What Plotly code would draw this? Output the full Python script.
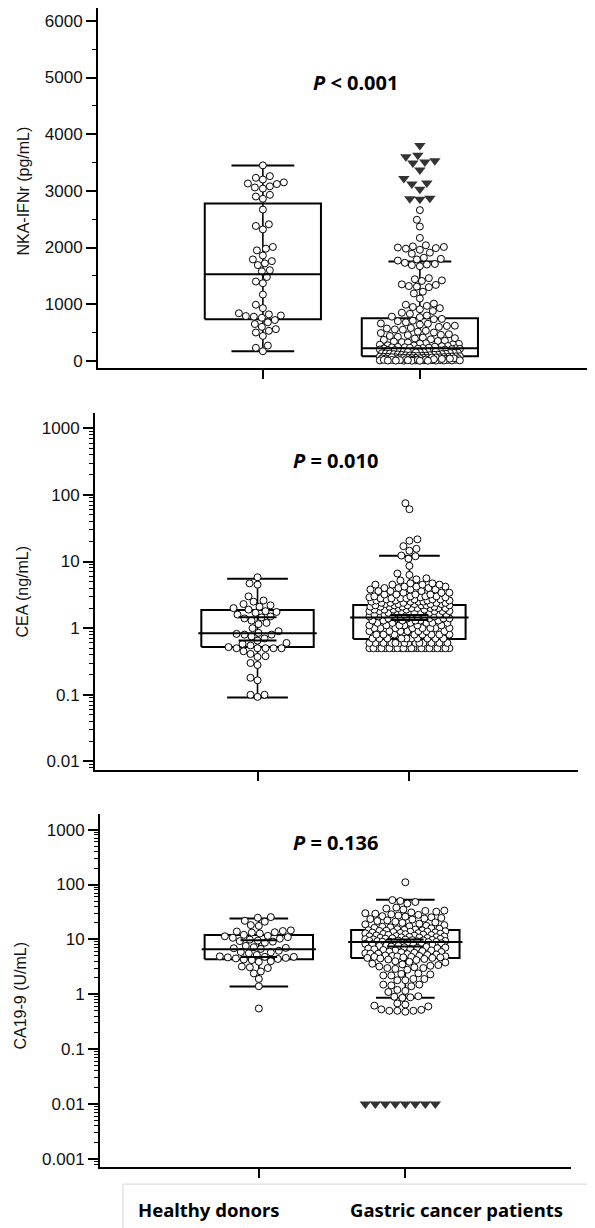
import numpy as np
import plotly.graph_objects as go

# ---------------- data ----------------
groups = ["Healthy donors", "Gastric cancer patients"]

# Panel 1: NKA-IFNr (pg/mL)
hd_nka = [3450, 3260, 3230, 3200, 3150, 3130, 3120, 3080, 3060, 3040, 2930, 2900, 2860, 2670,
          2410, 2380, 2320, 2010, 1980, 1950, 1860, 1790, 1760, 1720, 1690, 1600, 1580, 1480,
          1400, 1370, 1170, 990, 930, 840, 820, 800, 790, 780, 760, 720, 680, 650, 600, 560,
          530, 500, 440, 270, 230, 170]
gc_nka = [2660, 2490, 2370, 2170, 2040, 2020, 2010, 2000, 1990, 1980, 1960, 1910, 1890, 1820,
          1800, 1790, 1770, 1730, 1710, 1700, 1690, 1670, 1460, 1440, 1420, 1410, 1350, 1340,
          1320, 1310, 1300, 1220, 1190, 1100, 1010, 990, 970, 950, 930, 910, 880, 850, 830,
          800, 780, 770,
          740, 735, 710, 700, 680, 660, 655, 640, 620, 615, 600, 580, 570, 555, 550, 530, 515,
          500, 490, 470, 460, 455, 440, 425, 410, 400, 395, 380, 370, 355, 350, 340, 330, 325,
          310, 305, 300, 290, 285, 275, 270, 262, 258, 250, 246, 240, 238, 232, 230, 226,
          222, 219, 215, 210, 207, 200, 198, 193, 190, 185, 182, 178, 175, 170, 166, 163, 160,
          155, 152, 150, 145, 141, 139, 135, 131, 128, 125, 120, 118, 114, 110, 108, 104, 100,
          98, 95, 92, 90, 87, 85,
          82, 80, 77, 76, 73, 70, 68, 66, 63, 62, 59, 57, 55, 52, 50, 48, 45, 43, 41, 38, 36,
          35, 32, 30, 28, 25, 23, 21, 19, 17, 15, 13, 11, 10, 8, 7, 6, 5, 4, 3,
          65, 61, 58, 53, 47, 44, 39, 34, 31, 29, 27, 24, 20, 18, 16, 14, 12, 9, 6, 5, 3, 2]
gc_nka_extreme = [3800, 3630, 3600, 3530, 3510, 3490, 3370, 3220, 3140, 3120, 3030, 2870, 2860, 2850]
nka_q1 = [734, 83]
nka_med = [1527, 224]
nka_q3 = [2776, 750]
nka_lo = [170, 4]
nka_hi = [3447, 1753]

# Panel 2: CEA (ng/mL)
hd_cea = [5.8, 4.7, 4.5, 3.0, 2.6, 2.5, 2.3, 2.2, 2.1, 2.0, 1.9, 1.8, 1.75, 1.7, 1.6, 1.5,
          1.45, 1.4, 1.3, 1.2, 1.15, 1.0, 0.9, 0.85, 0.82, 0.8, 0.8, 0.75, 0.7, 0.65, 0.6,
          0.58, 0.55, 0.52, 0.5, 0.5, 0.5, 0.5, 0.5, 0.45, 0.41, 0.38, 0.37, 0.3, 0.28, 0.18,
          0.165, 0.1, 0.1, 0.093]
gc_cea_value = [0.5, 0.6, 0.7, 0.8, 0.9, 1.0, 1.1, 1.2, 1.3, 1.4, 1.5, 1.6, 1.7, 1.8, 1.9,
                2.0, 2.1, 2.2, 2.3, 2.4, 2.5, 2.6, 2.7, 2.8, 2.9, 3.0, 3.2, 3.4, 3.6, 3.8, 4.0,
                4.2, 4.5, 4.7, 5.2, 5.4, 5.6, 6.3, 6.6, 8.6, 11.0, 12.0, 12.3, 14.5, 15.5, 17.0,
                20.5, 21.5, 61.0, 75.0]
gc_cea_count = [24, 14, 10, 8, 7, 8, 6, 6, 6, 6, 7, 6, 6, 6, 5,
                6, 5, 6, 5, 5, 4, 4, 4, 4, 3, 4, 4, 3, 3, 3, 3,
                3, 4, 2, 1, 1, 1, 1, 1, 1, 1, 1, 1, 1, 1, 1,
                1, 1, 1, 1]
cea_q1 = [0.52, 0.69]
cea_med = [0.84, 1.44]
cea_q3 = [1.88, 2.23]
cea_lo = [0.091, 0.5]
cea_hi = [5.5, 12.2]
cea_bar_hi = [1.46, 1.58]
cea_bar_lo = [0.65, 1.33]

# Panel 3: CA19-9 (U/mL)
hd_ca199 = [25.5, 24.8, 21.8, 21.0, 18.2, 17.6, 14.6, 14.2, 13.9, 13.5, 13.3, 12.8, 12.1, 11.6,
            11.4, 11.0, 10.7, 10.3, 9.9, 9.5, 9.3, 9.1, 8.7, 7.6, 7.2, 7.0, 6.9, 6.7, 6.2, 5.9,
            5.8, 5.6, 5.2, 4.9, 4.8, 4.8, 4.7, 4.6, 4.5, 4.4, 4.3, 4.2, 4.0, 3.9, 3.2, 3.1, 3.0,
            2.6, 2.4, 1.9, 1.4, 0.55]
gc_ca199 = [110, 52, 50, 48, 45, 38, 36.5, 35, 33.5, 33, 32, 31, 30, 29.4, 28.7, 28, 27.2, 26.5,
            26, 25.3, 24.6, 24, 23.5, 23, 22.2, 21.6, 21, 20.4, 20, 19.3, 18.8, 18.2, 17.7, 17.3,
            17, 16.6, 16.2, 15.9, 15.6, 15.3, 15.1, 14.9,
            14.7, 14.6, 14.4, 14.3, 14.1, 13.9, 13.8, 13.6, 13.4, 13.3, 13.1, 13.0, 12.9, 12.7,
            12.6, 12.4, 12.2, 12.1, 12.0, 11.8, 11.7, 11.5, 11.4, 11.3, 11.1, 11.0, 10.9, 10.8,
            10.7, 10.6, 10.5, 10.3, 10.2, 10.1, 10.0, 9.9, 9.8, 9.7, 9.6, 9.5, 9.4, 9.35, 9.3,
            9.2, 9.1, 9.05, 9.0,
            8.9, 8.8, 8.6, 8.5, 8.5, 8.3, 8.2, 8.1, 8.0, 7.9, 7.7, 7.6, 7.6, 7.4, 7.3, 7.2, 7.1,
            7.0, 6.9, 6.8, 6.7, 6.6, 6.4, 6.3, 6.3, 6.1, 6.0, 5.9, 5.8, 5.7, 5.6, 5.5, 5.5, 5.4,
            5.3, 5.2, 5.1, 5.0, 5.0, 4.9, 4.9, 4.8, 4.8, 4.7, 4.7, 4.6, 4.6,
            4.5, 4.4, 4.3, 4.2, 4.0, 3.9, 3.8, 3.6, 3.5, 3.4, 3.3, 3.2,
            3.1, 3.0, 3.0, 2.9, 2.8, 2.4, 2.35, 2.3, 2.2, 2.2, 1.9, 1.9, 1.8, 1.8, 1.5, 1.5,
            1.45, 1.4, 1.2, 1.15, 1.1, 0.92, 0.9, 0.88, 0.86, 0.68, 0.65, 0.62, 0.6, 0.53, 0.52,
            0.5, 0.5, 0.5, 0.48]
gc_ca199_extreme = [0.01, 0.01, 0.01, 0.01, 0.01, 0.01, 0.01, 0.01]
ca_q1 = [4.33, 4.59]
ca_med = [6.58, 8.97]
ca_q3 = [12.0, 14.8]
ca_lo = [1.38, 0.86]
ca_hi = [24.1, 52.7]
ca_bar_hi = [9.6, 10.0]
ca_bar_lo = [4.79, 7.4]

p_texts = ["<b><i>P</i> &lt; 0.001</b>", "<b><i>P</i> = 0.010</b>", "<b><i>P</i> = 0.136</b>"]
y_titles = ["NKA-IFNr (pg/mL)", "CEA (ng/mL)", "CA19-9 (U/mL)"]
lin_tickvals_1 = [0, 1000, 2000, 3000, 4000, 5000, 6000]
lin_ticktext_1 = ["0", "1000", "2000", "3000", "4000", "5000", "6000"]
log_tickvals_2 = [0.01, 0.1, 1, 10, 100, 1000]
log_ticktext_2 = ["0.01", "0.1", "1", "10", "100", "1000"]
log_tickvals_3 = [0.001, 0.01, 0.1, 1, 10, 100, 1000]
log_ticktext_3 = ["0.001", "0.01", "0.1", "1", "10", "100", "1000"]

# ---------------- layout geometry (screen pixels of the reference) ----------------
OFF = 8                      # page body margin added by the browser
W, H = 595 - OFF, 1228 - OFF


def fx(px):
    return min(1.0, max(0.0, (px - OFF) / W))


def fy(py):
    return min(1.0, max(0.0, 1 - (py - OFF) / H))


panels = [
    dict(x0=98, x1=591, y0=8, y1=369, xr=[-1.05, 2.09], yr=[-128, 6227], log=False,
         p_xy=(355, 83), yt_xy=(24, 192)),
    dict(x0=95, x1=578, y0=414, y1=771.7, xr=[-1.07, 2.11], yr=[-2.126, 3.229], log=True,
         p_xy=(335, 462), yt_xy=(23, 593)),
    dict(x0=100, x1=570.6, y0=816, y1=1170, xr=[-1.084, 2.128], yr=[-3.151, 3.285], log=True,
         p_xy=(335, 845), yt_xy=(21, 998)),
]
for p in panels:
    p["ppx"] = (p["x1"] - p["x0"]) / (p["xr"][1] - p["xr"][0])
    p["ppy"] = (p["y1"] - p["y0"]) / (p["yr"][1] - p["yr"][0])


def swarm(vals, p, diam, half_w, step=1.0):
    v = np.asarray(vals, float)
    ypx = (np.log10(v) if p["log"] else v) * p["ppy"]
    cand = [0.0]
    k = step
    while k <= half_w:
        cand += [-k, k]
        k += step
    cand = np.array(cand)
    order = np.argsort(ypx, kind="stable")
    xs = np.zeros(len(v))
    px, py = [], []
    for i in order:
        y = ypx[i]
        x = 0.0
        if px:
            ax = np.array(px)
            ay = np.array(py)
            near = np.abs(ay - y) < diam
            if near.any():
                dx = cand[:, None] - ax[near][None, :]
                dy = (y - ay[near])[None, :]
                d = np.sqrt(dx ** 2 + dy ** 2).min(axis=1)
                ok = np.where(d >= diam)[0]
                x = cand[ok[0]] if len(ok) else cand[int(np.argmax(d))]
        xs[i] = x
        px.append(x)
        py.append(y)
    return xs / p["ppx"]


fig = go.Figure()
BH, CAP, MB, MEXT = 0.37, 0.2, 0.125, 0.02

panel_data = [
    dict(pts=[hd_nka, gc_nka], ext=[None, gc_nka_extreme], q1=nka_q1, med=nka_med, q3=nka_q3,
         lo=nka_lo, hi=nka_hi, bhi=None, blo=None, mext=0),
    dict(pts=[hd_cea, list(np.repeat(gc_cea_value, gc_cea_count))], ext=[None, None],
         q1=cea_q1, med=cea_med, q3=cea_q3, lo=cea_lo, hi=cea_hi, bhi=cea_bar_hi,
         blo=cea_bar_lo, mext=MEXT),
    dict(pts=[hd_ca199, gc_ca199], ext=[None, gc_ca199_extreme], q1=ca_q1, med=ca_med,
         q3=ca_q3, lo=ca_lo, hi=ca_hi, bhi=ca_bar_hi, blo=ca_bar_lo, mext=MEXT),
]

line_style = dict(color="black", width=2)
for k, (p, d) in enumerate(zip(panels, panel_data)):
    xa = "x" if k == 0 else f"x{k+1}"
    ya = "y" if k == 0 else f"y{k+1}"
    wx, wy, cx, cy, bx, by = [], [], [], [], [], []
    for c in range(2):
        wx += [c, c, None]
        wy += [d["lo"][c], d["hi"][c], None]
        cx += [c - CAP, c + CAP, None, c - CAP, c + CAP, None]
        cy += [d["lo"][c], d["lo"][c], None, d["hi"][c], d["hi"][c], None]
        bx += [c - BH, c + BH, c + BH, c - BH, c - BH, None]
        by += [d["q1"][c], d["q1"][c], d["q3"][c], d["q3"][c], d["q1"][c], None]
    fig.add_trace(go.Scatter(x=wx, y=wy, mode="lines", line=dict(color="black", width=1.6),
                             xaxis=xa, yaxis=ya, hoverinfo="skip"))
    fig.add_trace(go.Scatter(x=cx, y=cy, mode="lines", line=line_style, xaxis=xa, yaxis=ya,
                             hoverinfo="skip"))
    fig.add_trace(go.Scatter(x=bx, y=by, mode="lines", line=line_style, xaxis=xa, yaxis=ya,
                             hoverinfo="skip"))
    for c in range(2):
        vals = d["pts"][c]
        off = swarm(vals, p, diam=7.2, half_w=40)
        fig.add_trace(go.Scatter(
            x=c + off, y=vals, mode="markers", xaxis=xa, yaxis=ya,
            marker=dict(symbol="circle", size=7, color="white",
                        line=dict(color="black", width=1))))
        if d["ext"][c] is not None:
            ev = d["ext"][c]
            eoff = swarm(ev, p, diam=9.3, half_w=40)
            fig.add_trace(go.Scatter(
                x=c + eoff, y=ev, mode="markers", xaxis=xa, yaxis=ya,
                marker=dict(symbol="triangle-down", size=10, color="#333333",
                            line=dict(width=0))))
    mx, my = [], []
    for c in range(2):
        mx += [c - BH - d["mext"], c + BH + d["mext"], None]
        my += [d["med"][c], d["med"][c], None]
        if d["bhi"] is not None:
            mx += [c - MB, c + MB, None, c - MB, c + MB, None]
            my += [d["bhi"][c], d["bhi"][c], None, d["blo"][c], d["blo"][c], None]
    fig.add_trace(go.Scatter(x=mx, y=my, mode="lines", line=line_style, xaxis=xa, yaxis=ya,
                             hoverinfo="skip"))

tick_font = dict(family="Liberation Sans, Arial, sans-serif", size=17, color="#111111")
layout = dict(width=W, height=H, margin=dict(l=0, r=0, t=0, b=0), showlegend=False,
              paper_bgcolor="white", plot_bgcolor="white")
annotations = []
for k, p in enumerate(panels):
    sx = "" if k == 0 else str(k + 1)
    xdom = [fx(p["x0"]), fx(p["x1"])]
    ydom = [fy(p["y1"]), fy(p["y0"])]
    layout["xaxis" + sx] = dict(
        domain=xdom, range=p["xr"], anchor="y" + sx, tickvals=[0, 1], ticktext=["", ""],
        ticks="outside", ticklen=9, tickwidth=2, tickcolor="black", showline=True,
        linewidth=2, linecolor="black", showgrid=False, zeroline=False, fixedrange=True)
    common = dict(domain=ydom, range=p["yr"], anchor="x" + sx, tickmode="array",
                  ticks="outside", ticklen=10, tickwidth=2, tickcolor="black",
                  showline=True, linewidth=2, linecolor="black", showgrid=False,
                  zeroline=False, tickfont=tick_font, fixedrange=True)
    if not p["log"]:
        layout["yaxis" + sx] = dict(
            tickvals=lin_tickvals_1, ticktext=lin_ticktext_1,
            minor=dict(ticks="outside", ticklen=4, tickwidth=1.2, tickcolor="black",
                       tick0=0, dtick=500), **common)
    else:
        tv = log_tickvals_2 if k == 1 else log_tickvals_3
        tt = log_ticktext_2 if k == 1 else log_ticktext_3
        layout["yaxis" + sx] = dict(
            type="log", tickvals=tv, ticktext=tt,
            minor=dict(ticks="outside", ticklen=4, tickwidth=1, tickcolor="black", dtick="D1"),
            **common)
    annotations.append(dict(
        x=fx(p["p_xy"][0]), y=fy(p["p_xy"][1]), xref="paper", yref="paper",
        text=p_texts[k], showarrow=False, xanchor="center", yanchor="middle",
        font=dict(family="Noto Sans, sans-serif", size=20, color="black")))
    annotations.append(dict(
        x=fx(p["yt_xy"][0]), y=fy(p["yt_xy"][1]), xref="paper", yref="paper",
        text=y_titles[k], showarrow=False, textangle=-90, xanchor="center", yanchor="middle",
        font=dict(family="Liberation Sans, Arial, sans-serif", size=16, color="#111111")))

label_x = [209, 456]
for gx, g in zip(label_x, groups):
    annotations.append(dict(
        x=fx(gx), y=fy(1212), xref="paper", yref="paper", text="<b>" + g + "</b>",
        showarrow=False, xanchor="center", yanchor="middle",
        font=dict(family="Noto Sans, sans-serif", size=18.5, color="black")))
layout["annotations"] = annotations
layout["shapes"] = [dict(type="rect", xref="paper", yref="paper", x0=fx(123), x1=1.02,
                         y0=-0.02, y1=fy(1187), line=dict(color="#d4d4d4", width=1))]
fig.update_layout(**layout)
fig.write_html("out.html")
